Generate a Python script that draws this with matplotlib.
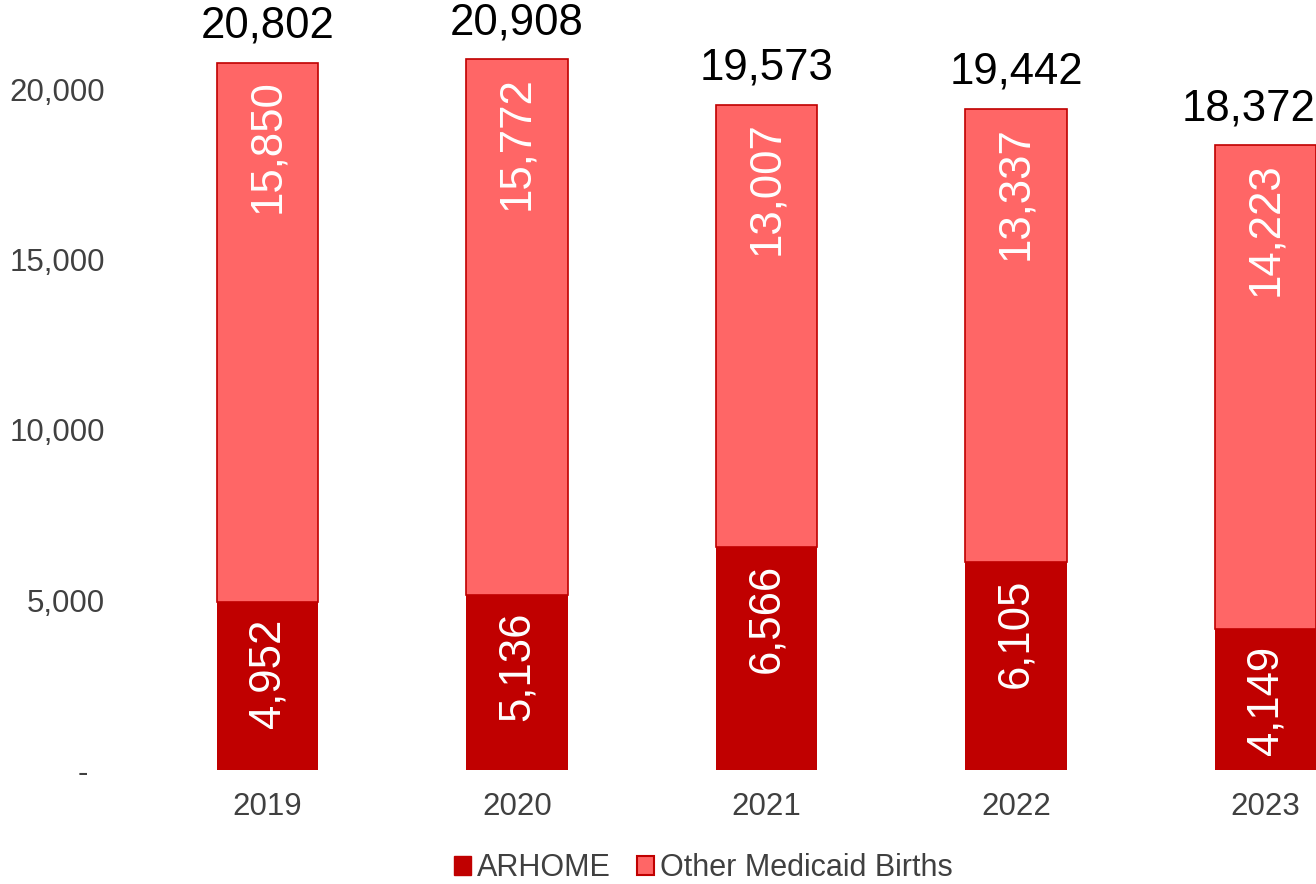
import matplotlib
matplotlib.use("Agg")
import matplotlib.pyplot as plt
from matplotlib.patches import Patch

years = ["2019", "2020", "2021", "2022", "2023"]
arhome = [4952, 5136, 6566, 6105, 4149]
other = [15850, 15772, 13007, 13337, 14223]
totals = [20802, 20908, 19573, 19442, 18372]

DARK_RED = "#C00000"
LIGHT_RED = "#FF6666"
TEXT_GREY = "#404040"

plt.rcParams["font.family"] = ["Liberation Sans", "DejaVu Sans"]

fig = plt.figure(figsize=(13.16, 8.84), dpi=100)
ax = fig.add_axes([160 / 1316, 1 - 770 / 884, (1316 - 160) / 1316, 770 / 884])

x = list(range(len(years)))
width = 0.405
ax.bar(x, arhome, width, color=DARK_RED, linewidth=0, label="ARHOME")
ax.bar(x, other, width, bottom=arhome, color=LIGHT_RED, edgecolor=DARK_RED,
       linewidth=1.2, label="Other Medicaid Births")

for i in x:
    ax.annotate(f"{arhome[i]:,}", (i, arhome[i]), xytext=(0, -12), textcoords="offset points",
                rotation=90, ha="center", va="top", color="white", fontsize=31.5)
    ax.annotate(f"{other[i]:,}", (i, arhome[i] + other[i]), xytext=(0, -12),
                textcoords="offset points", rotation=90, ha="center", va="top",
                color="white", fontsize=31.5)
    # last total label is nudged left so it stays inside the figure, like the original
    dx = -12 if i == len(years) - 1 else 0
    ax.annotate(f"{totals[i]:,}", (i, totals[i]), xytext=(dx, 18), textcoords="offset points",
                ha="center", va="baseline", color="black", fontsize=31.5,
                annotation_clip=False)

ax.set_xlim((160 - 267.5) / 249.5, (1316 - 267.5) / 249.5)
ax.set_ylim(0, 770 / 0.034)
ax.set_xticks(x)
ax.set_xticklabels(years)
yt = [0, 5000, 10000, 15000, 20000]
ax.set_yticks(yt)
ax.set_yticklabels(["-  "] + [f"{v:,}" for v in yt[1:]])
ax.tick_params(axis="y", length=0, pad=39.5, labelsize=22.5, labelcolor=TEXT_GREY)
ax.tick_params(axis="x", length=0, pad=16, labelsize=22.5, labelcolor=TEXT_GREY)
for s in ax.spines.values():
    s.set_visible(False)

handles = [Patch(facecolor=DARK_RED, edgecolor=DARK_RED),
           Patch(facecolor=LIGHT_RED, edgecolor=DARK_RED, linewidth=1.5)]
leg = fig.legend(handles, ["ARHOME", "Other Medicaid Births"], loc="center",
                 bbox_to_anchor=(703.5 / 1316, 1 - 868 / 884), ncol=2, frameon=False,
                 fontsize=22, handlelength=0.56, handleheight=0.56, handletextpad=0.2,
                 columnspacing=0.85, borderpad=0)
for t in leg.get_texts():
    t.set_color(TEXT_GREY)

fig.savefig("out.png", dpi=100)
